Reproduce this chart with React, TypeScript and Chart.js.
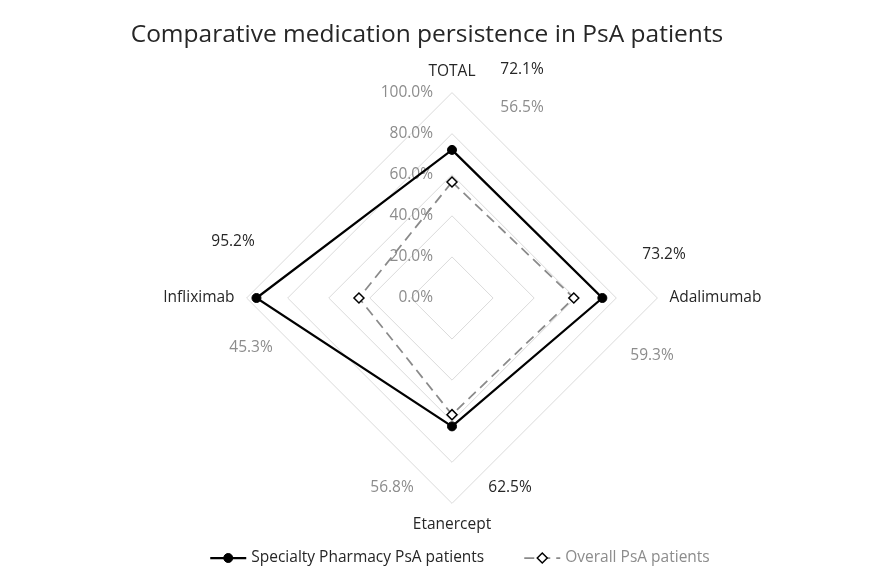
import React, { useEffect, useRef } from 'react';
import { Chart, registerables } from 'chart.js';
import { drawPoint } from 'chart.js/helpers';

Chart.register(...registerables);

const TITLE = 'Comparative medication persistence in PsA patients';
const categories = ['TOTAL', 'Adalimumab', 'Etanercept', 'Infliximab'];
const seriesNames = ['Specialty Pharmacy PsA patients', 'Overall PsA patients'];
const specialtyValues = [72.1, 73.2, 62.5, 95.2];
const overallValues = [56.5, 59.3, 56.8, 45.3];
const scaleMin = 0;
const scaleMax = 100;
const scaleStep = 20;

const FONT = '"Open Sans", "DejaVu Sans", sans-serif';
const FS = 15.5;
const DARK = '#262626';
const GRAY_TEXT = '#8c8c8c';
const SERIES_TEXT = [DARK, GRAY_TEXT];

// data label offsets (px from radar centre), per series, per category
const LABEL_OFFSETS = [
  [[70, -228], [212, -43], [58, 190], [-219, -56]],
  [[70, -190], [200, 58], [-60, 190], [-201, 50]],
];

const fmt = (v: number) => v.toFixed(1) + '%';

const decorPlugin = {
  id: 'decor',
  beforeDatasetsDraw(chart: any) {
    const s = chart.scales.r;
    const ctx = chart.ctx;
    ctx.save();
    ctx.font = `${FS}px ${FONT}`;
    ctx.fillStyle = GRAY_TEXT;
    ctx.textAlign = 'right';
    ctx.textBaseline = 'middle';
    s.ticks.forEach((t: any) => {
      const r = s.getDistanceFromCenterForValue(t.value);
      ctx.fillText(t.label, s.xCenter - 19, s.yCenter - r);
    });
    ctx.restore();
  },
  afterDraw(chart: any) {
    const s = chart.scales.r;
    const ctx = chart.ctx;
    ctx.save();
    // data labels
    ctx.font = `${FS}px ${FONT}`;
    ctx.textAlign = 'center';
    ctx.textBaseline = 'middle';
    chart.data.datasets.forEach((ds: any, di: number) => {
      ctx.fillStyle = SERIES_TEXT[di];
      ds.data.forEach((v: number, i: number) => {
        const [dx, dy] = LABEL_OFFSETS[di][i];
        ctx.fillText(fmt(v), s.xCenter + dx, s.yCenter + dy);
      });
    });
    // title
    ctx.font = `24.5px ${FONT}`;
    ctx.fillStyle = DARK;
    ctx.fillText(TITLE, 427, 35);
    // legend
    ctx.font = `${FS}px ${FONT}`;
    const lineLen = 36;
    const textGap = 5;
    const itemGap = 40;
    const widths = chart.data.datasets.map(
      (ds: any) => lineLen + textGap + ctx.measureText(ds.label).width
    );
    const total = widths.reduce((a: number, b: number) => a + b, 0) + itemGap * (widths.length - 1);
    let x = 460 - total / 2;
    const y = 558;
    chart.data.datasets.forEach((ds: any, di: number) => {
      ctx.save();
      ctx.strokeStyle = ds.borderColor;
      ctx.lineWidth = ds.borderWidth;
      ctx.setLineDash(ds.borderDash || []);
      ctx.beginPath();
      ctx.moveTo(x, y);
      ctx.lineTo(x + lineLen, y);
      ctx.stroke();
      ctx.setLineDash([]);
      ctx.fillStyle = ds.pointBackgroundColor;
      ctx.strokeStyle = ds.pointBorderColor;
      ctx.lineWidth = ds.pointBorderWidth;
      drawPoint(ctx, { pointStyle: ds.pointStyle, radius: ds.pointRadius, rotation: 0, borderWidth: ds.pointBorderWidth }, x + lineLen / 2, y);
      ctx.restore();
      ctx.fillStyle = SERIES_TEXT[di];
      ctx.textAlign = 'left';
      ctx.textBaseline = 'middle';
      ctx.fillText(ds.label, x + lineLen + textGap, y);
      x += widths[di] + itemGap;
    });
    ctx.restore();
  },
};

export default function App() {
  const ref = useRef<HTMLCanvasElement | null>(null);
  useEffect(() => {
    document.body.style.margin = '0';
    const canvas = ref.current;
    if (!canvas) return;
    const chart = new Chart(canvas, {
      type: 'radar',
      data: {
        labels: categories,
        datasets: [
          {
            label: seriesNames[0],
            data: specialtyValues,
            borderColor: '#000000',
            backgroundColor: 'transparent',
            borderWidth: 2.25,
            pointStyle: 'circle',
            pointRadius: 4.5,
            pointBackgroundColor: '#000000',
            pointBorderColor: '#000000',
            pointBorderWidth: 1,
            fill: false,
            tension: 0,
          },
          {
            label: seriesNames[1],
            data: overallValues,
            borderColor: '#8a8a8a',
            backgroundColor: 'transparent',
            borderWidth: 1.75,
            borderDash: [10, 6],
            pointStyle: 'rectRot',
            pointRadius: 5,
            pointBackgroundColor: '#ffffff',
            pointBorderColor: '#000000',
            pointBorderWidth: 1.5,
            fill: false,
            tension: 0,
          },
        ],
      },
      options: {
        responsive: false,
        animation: false,
        layout: { padding: { top: 63, bottom: 46, left: 30, right: 0 } },
        plugins: {
          legend: { display: false },
          title: { display: false },
          tooltip: { enabled: false },
        },
        scales: {
          r: {
            min: scaleMin,
            max: scaleMax,
            ticks: {
              stepSize: scaleStep,
              display: false,
              callback: (v: any) => fmt(Number(v)),
            },
            grid: { color: '#dadada', lineWidth: 1, circular: false },
            angleLines: { display: false },
            pointLabels: {
              font: { family: FONT, size: FS },
              color: DARK,
              padding: 12,
            },
          },
        },
      },
      plugins: [decorPlugin],
    });
    return () => chart.destroy();
  }, []);
  return <canvas ref={ref} width={874} height={581} style={{ display: 'block' }} />;
}
